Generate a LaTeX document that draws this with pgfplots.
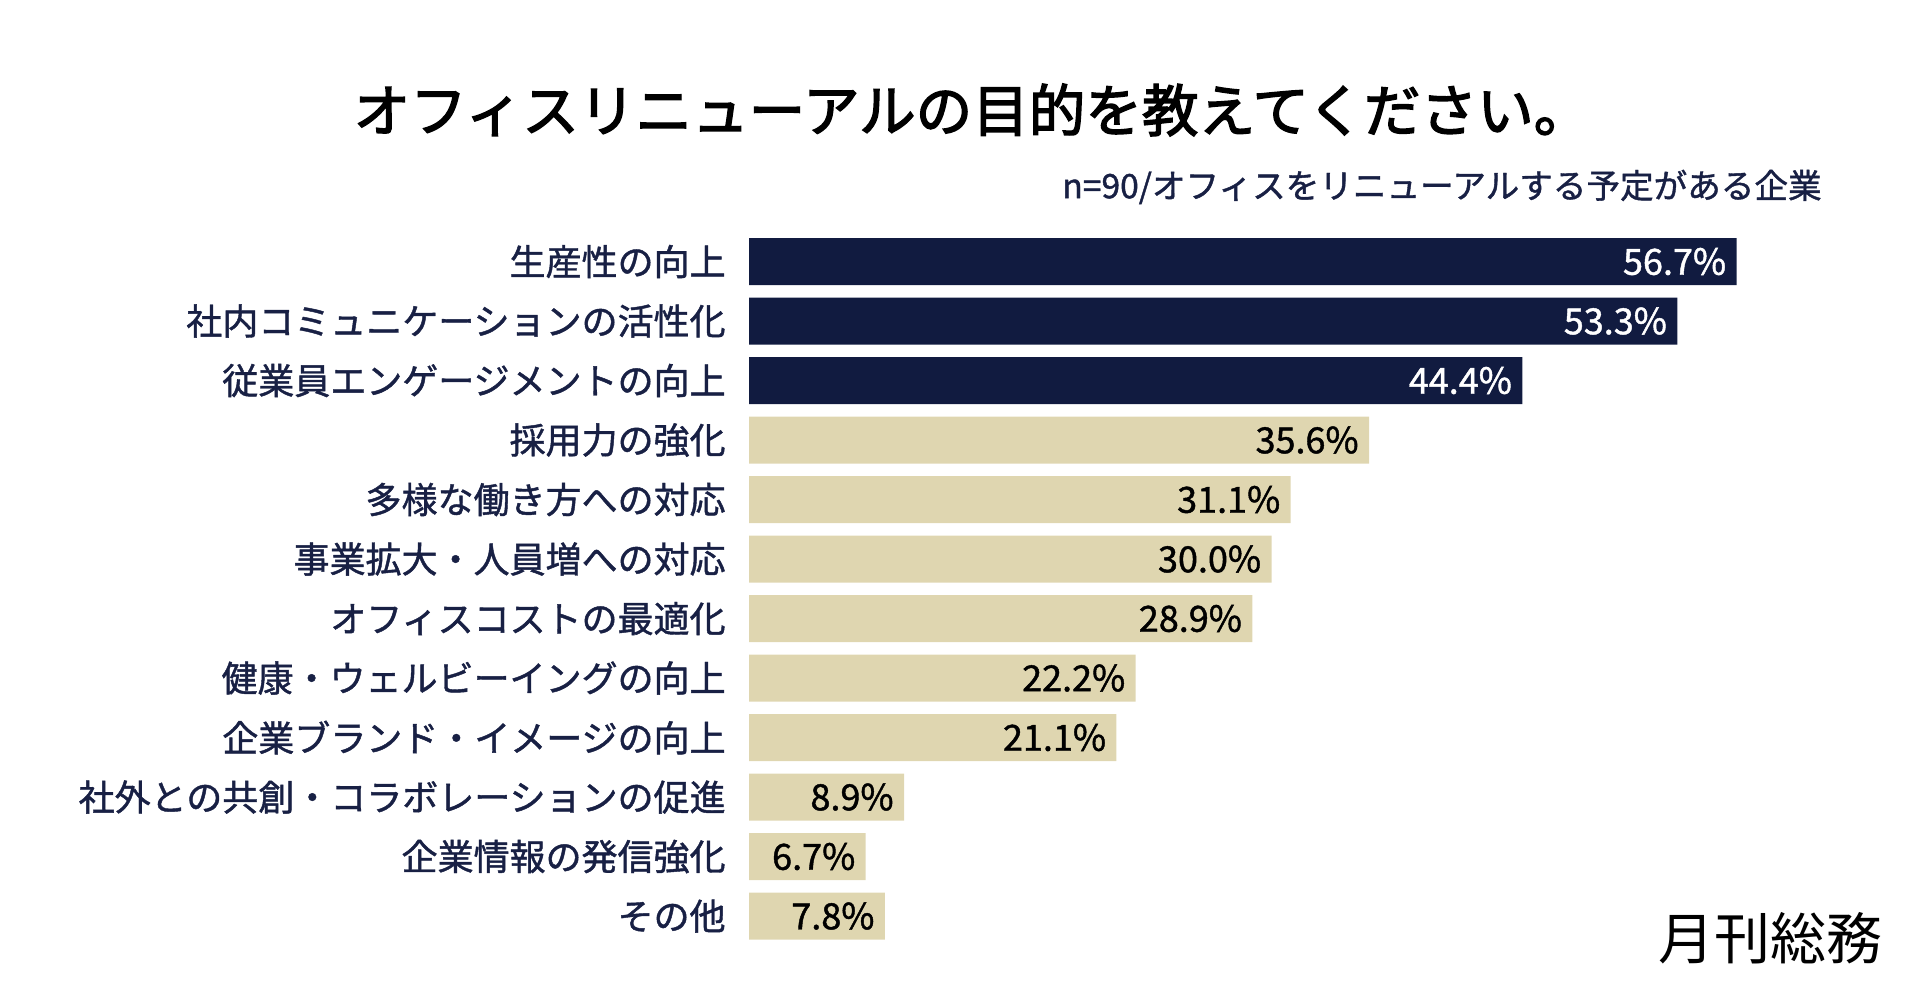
\documentclass[border=0pt]{standalone}
\usepackage{fontspec}
\setmainfont{Noto Sans CJK JP}
\newfontfamily\medfont{Noto Sans CJK JP}[FakeBold=1.2]
\newfontfamily\titlefont{Noto Sans CJK JP}[FakeBold=2.5]
\usepackage{pgfplots}
\pgfplotsset{compat=1.18}
\definecolor{navy}{RGB}{17,27,64}
\definecolor{sand}{RGB}{223,214,176}
\definecolor{labelnavy}{RGB}{24,32,68}

\begin{document}
\begin{tikzpicture}
% page is 960pt x 502.5pt, i.e. 1 px of the reference = 0.5pt
\useasboundingbox (0,0) rectangle (960pt,502.5pt);
\node[font=\titlefont\fontsize{28.3}{30}\selectfont, inner sep=0pt] at (486pt,447.5pt)
  {オフィスリニューアルの目的を教えてください。};
\node[font=\medfont\fontsize{16.8}{19}\selectfont, text=labelnavy, anchor=east, inner sep=0pt] at (911pt,409pt)
  {n=90/オフィスをリニューアルする予定がある企業};
\node[font=\fontsize{28}{30}\selectfont, inner sep=0pt] at (885pt,33.5pt) {月刊総務};

\begin{axis}[
  at={(374.5pt,29.6pt)}, anchor=south west,
  scale only axis, width=522.5pt, height=357pt,
  xbar, bar width=23.5pt, bar shift=0pt,
  xmin=0, xmax=60, ymin=-0.5, ymax=11.5, y dir=reverse,
  axis line style={draw=none}, xtick=\empty,
  major tick length=0pt,
  ytick={0,...,11},
  yticklabels={生産性の向上, 社内コミュニケーションの活性化, 従業員エンゲージメントの向上,
    採用力の強化, 多様な働き方への対応, 事業拡大・人員増への対応, オフィスコストの最適化,
    健康・ウェルビーイングの向上, 企業ブランド・イメージの向上,
    社外との共創・コラボレーションの促進, 企業情報の発信強化, その他},
  yticklabel style={font=\medfont\fontsize{18}{20}\selectfont, text=labelnavy, inner sep=0pt,
    anchor=east, xshift=-11.5pt},
  point meta=x,
  nodes near coords={\pgfmathprintnumber[fixed,fixed zerofill,precision=1]{\pgfplotspointmeta}\%},
  /pgf/number format/assume math mode=true,
  every node near coord/.append style={anchor=east, xshift=-5pt, inner sep=0pt,
    font=\medfont\fontsize{18}{20}\selectfont},
  clip=false,
]
\addplot[draw=none, fill=navy, bar shift=0pt,
  every node near coord/.append style={text=white}]
  coordinates {(56.7,0) (53.3,1) (44.4,2)};
\addplot[draw=none, fill=sand, bar shift=0pt,
  every node near coord/.append style={text=black}]
  coordinates {(35.6,3) (31.1,4) (30.0,5) (28.9,6) (22.2,7) (21.1,8)
    (8.9,9) (6.7,10) (7.8,11)};
\end{axis}
\end{tikzpicture}
\end{document}
